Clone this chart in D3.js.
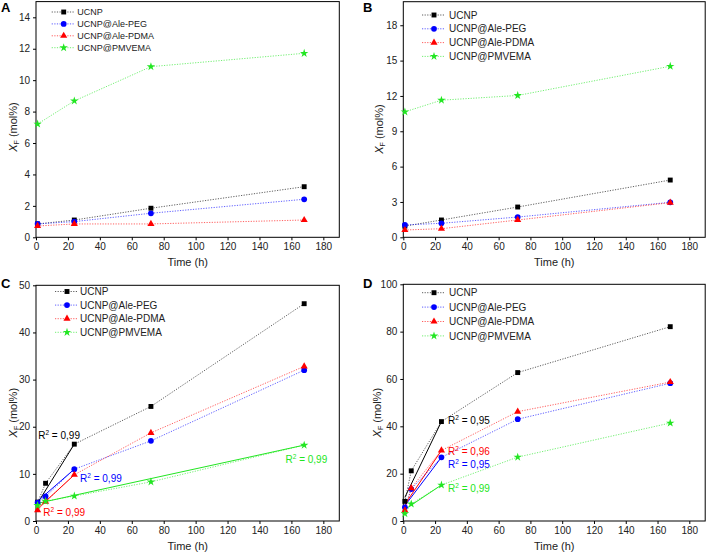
<!DOCTYPE html>
<html>
<head>
<meta charset="utf-8">
<script src="https://cdn.jsdelivr.net/npm/d3@7"></script>
<style>
  body { margin: 0; background: #fff; }
  svg { display: block; font-family: Arial, "Liberation Sans", sans-serif; }
</style>
</head>
<body>
<svg id="chart" width="708" height="553"></svg>
<script>
// ---------------- data ----------------
const seriesNames = ["UCNP", "UCNP@Ale-PEG", "UCNP@Ale-PDMA", "UCNP@PMVEMA"];
const seriesColors = ["#000000", "#0000ff", "#ff0000", "#22e622"];
const seriesShapes = ["square", "circle", "triangle", "star"];

const timesAB = [1, 24, 72, 168];
const timesC = [1, 6, 24, 72, 168];
const timesD = [1, 5, 24, 72, 168];

// Panel A
const aUCNP = [0.85, 1.10, 1.85, 3.22];
const aPEG = [0.85, 1.00, 1.53, 2.42];
const aPDMA = [0.72, 0.85, 0.85, 1.10];
const aPMVEMA = [7.21, 8.68, 10.86, 11.71];

// Panel B
const bUCNP = [0.95, 1.47, 2.57, 4.86];
const bPEG = [1.05, 1.19, 1.72, 2.97];
const bPDMA = [0.62, 0.73, 1.47, 2.94];
const bPMVEMA = [10.65, 11.64, 12.04, 14.52];

// Panel C
const cUCNP = [4.0, 8.0, 16.3, 24.3, 46.1];
const cPEG = [3.9, 5.2, 11.0, 17.0, 32.0];
const cPDMA = [2.3, 4.1, 9.8, 18.7, 32.8];
const cPMVEMA = [3.3, 4.2, 5.3, 8.3, 16.1];

// Panel D
const dUCNP = [8.3, 21.2, 42.0, 62.7, 82.1];
const dPEG = [5.8, 13.5, 26.9, 43.0, 58.2];
const dPDMA = [4.5, 13.9, 29.8, 46.2, 58.7];
const dPMVEMA = [3.1, 7.2, 15.2, 27.0, 41.4];

// linear fits (start/end in data units)
const cFitX = [[1, 24], [1, 24], [1, 24], [1, 168]];
const cFitY = [[3.8, 16.3], [4.2, 11.0], [2.6, 9.8], [3.75, 16.1]];
const dFitX = [[1, 24], [1, 24], [1, 24], [1, 24]];
const dFitY = [[10.0, 42.0], [6.5, 26.9], [7.0, 29.8], [4.9, 15.2]];

// R² annotations (series index, value text, x, y in data units)
const cR2Series = [0, 1, 2, 3];
const cR2Text = ["0,99", "0,99", "0,99", "0,99"];
const cR2X = [1.4, 27.6, 4.6, 156.3];
const cR2Y = [18.2, 9.2, 1.9, 13.2];
const dR2Series = [0, 2, 1, 3];
const dR2Text = ["0,95", "0,96", "0,95", "0,99"];
const dR2X = [28.2, 28.2, 28.2, 28.2];
const dR2Y = [42.5, 29.6, 24.2, 13.8];

const xTicks = [0, 20, 40, 60, 80, 100, 120, 140, 160, 180];
const yTicksA = [0, 2, 4, 6, 8, 10, 12, 14];
const yTicksB = [0, 3, 6, 9, 12, 15, 18];
const yTicksC = [0, 10, 20, 30, 40, 50];
const yTicksD = [0, 20, 40, 60, 80, 100];

// ---------------- drawing ----------------
const svg = d3.select("#chart");

function markerPath(shape) {
  const typeMap = { square: d3.symbolSquare, circle: d3.symbolCircle, triangle: d3.symbolTriangle, star: d3.symbolStar };
  const sizeMap = { square: 24, circle: 26, triangle: 22, star: 22 };
  return d3.symbol().type(typeMap[shape]).size(sizeMap[shape])();
}

function drawPanel(cfg) {
  const g = svg.append("g");
  const x = d3.scaleLinear().domain([0, 190]).range([cfg.left, cfg.right]);
  const y = d3.scaleLinear().domain([0, cfg.ymax]).range([cfg.bottom, cfg.top]);

  // frame
  g.append("rect")
    .attr("x", cfg.left).attr("y", cfg.top)
    .attr("width", cfg.right - cfg.left).attr("height", cfg.bottom - cfg.top)
    .attr("fill", "none").attr("stroke", "#000").attr("stroke-width", 1);

  const xAxis = d3.axisBottom(x).tickValues(xTicks).tickSize(3).tickPadding(3).tickSizeOuter(0);
  const gx = g.append("g").attr("transform", `translate(0,${cfg.bottom})`).call(xAxis);
  const yAxis = d3.axisLeft(y).tickValues(cfg.yTicks).tickSize(3).tickPadding(3).tickSizeOuter(0);
  const gy = g.append("g").attr("transform", `translate(${cfg.left},0)`).call(yAxis);
  [gx, gy].forEach(a => {
    a.select(".domain").remove();
    a.selectAll("text").attr("font-size", 10).attr("font-family", "Arial, 'Liberation Sans', sans-serif").attr("fill", "#222");
    a.selectAll("line").attr("stroke", "#000");
  });

  // axis titles
  g.append("text")
    .attr("x", (cfg.left + cfg.right) / 2).attr("y", cfg.bottom + 29)
    .attr("text-anchor", "middle").attr("font-size", 11).attr("fill", "#222")
    .text("Time (h)");
  const yt = g.append("text")
    .attr("transform", `translate(${cfg.ytitleX},${cfg.ytitleY}) rotate(-90)`)
    .attr("text-anchor", "middle").attr("font-size", 11).attr("fill", "#222");
  yt.append("tspan").attr("font-style", "italic").text("X");
  yt.append("tspan").attr("font-size", 7).attr("dy", 2).text("F");
  yt.append("tspan").attr("dy", -2).text(" (mol%)");

  // panel letter
  g.append("text").attr("x", cfg.letterX).attr("y", cfg.letterY)
    .attr("font-size", 13).attr("font-weight", "bold").attr("fill", "#000").text(cfg.letter);

  const line = d3.line().x(d => x(d[0])).y(d => y(d[1]));

  // fits (solid)
  if (cfg.fitX) {
    cfg.fitX.forEach((fx, i) => {
      g.append("path")
        .attr("d", line([[fx[0], cfg.fitY[i][0]], [fx[1], cfg.fitY[i][1]]]))
        .attr("fill", "none").attr("stroke", seriesColors[i]).attr("stroke-width", 1);
    });
  }

  // dotted series lines
  cfg.series.forEach((vals, i) => {
    const pts = cfg.times.map((t, j) => [t, vals[j]]);
    g.append("path")
      .attr("d", line(pts))
      .attr("fill", "none").attr("stroke", seriesColors[i]).attr("stroke-width", 0.9)
      .attr("stroke-dasharray", "1.2,1.4").attr("opacity", 0.7);
  });
  // markers
  cfg.series.forEach((vals, i) => {
    g.selectAll(null).data(cfg.times.map((t, j) => [t, vals[j]])).enter()
      .append("path")
      .attr("d", markerPath(seriesShapes[i]))
      .attr("transform", d => `translate(${x(d[0])},${y(d[1])})`)
      .attr("fill", seriesColors[i]);
  });

  // legend
  seriesNames.forEach((name, i) => {
    const ly = cfg.top + cfg.legDy + i * cfg.legSp;
    const lx = cfg.left + cfg.legDx;
    g.append("line").attr("x1", lx).attr("x2", lx + 22).attr("y1", ly).attr("y2", ly)
      .attr("stroke", seriesColors[i]).attr("stroke-width", 0.9)
      .attr("stroke-dasharray", "1.2,1.4").attr("opacity", 0.7);
    g.append("path").attr("d", markerPath(seriesShapes[i]))
      .attr("transform", `translate(${lx + 12},${ly})`).attr("fill", seriesColors[i]);
    g.append("text").attr("x", lx + cfg.legTx).attr("y", ly + cfg.legFont * 0.36)
      .attr("font-size", cfg.legFont).attr("fill", "#222").text(name);
  });

  // R² annotations
  if (cfg.r2Series) {
    cfg.r2Series.forEach((si, k) => {
      const t = g.append("text")
        .attr("x", x(cfg.r2X[k])).attr("y", y(cfg.r2Y[k]) + 4)
        .attr("font-size", 10).attr("fill", seriesColors[si]);
      t.append("tspan").text("R");
      t.append("tspan").attr("font-size", 6.5).attr("dy", -4).text("2");
      t.append("tspan").attr("dy", 4).text(" = " + cfg.r2Text[k]);
    });
  }
}

drawPanel({
  letter: "A", letterX: 1, letterY: 12,
  left: 36, right: 339.3, top: 1.6, bottom: 237.3, ymax: 15, yTicks: yTicksA,
  ytitleX: 17, ytitleY: 127,
  legDx: 15.7, legDy: 10.4, legSp: 11.9, legTx: 25.6, legFont: 9,
  times: timesAB, series: [aUCNP, aPEG, aPDMA, aPMVEMA]
});
drawPanel({
  letter: "B", letterX: 363, letterY: 12,
  left: 403.3, right: 705.2, top: 1.7, bottom: 237.3, ymax: 20, yTicks: yTicksB,
  ytitleX: 383, ytitleY: 129,
  legDx: 18.7, legDy: 13.3, legSp: 13.8, legTx: 27, legFont: 10,
  times: timesAB, series: [bUCNP, bPEG, bPDMA, bPMVEMA]
});
drawPanel({
  letter: "C", letterX: 1, letterY: 288,
  left: 36, right: 339.3, top: 285.3, bottom: 521, ymax: 50, yTicks: yTicksC,
  ytitleX: 17, ytitleY: 412.7,
  legDx: 19, legDy: 6.2, legSp: 13.6, legTx: 25, legFont: 10,
  times: timesC, series: [cUCNP, cPEG, cPDMA, cPMVEMA],
  fitX: cFitX, fitY: cFitY,
  r2Series: cR2Series, r2Text: cR2Text, r2X: cR2X, r2Y: cR2Y
});
drawPanel({
  letter: "D", letterX: 363, letterY: 288,
  left: 403.3, right: 705.2, top: 284.3, bottom: 521, ymax: 100, yTicks: yTicksD,
  ytitleX: 381, ytitleY: 412.7,
  legDx: 18.7, legDy: 8.4, legSp: 14.4, legTx: 27, legFont: 10,
  times: timesD, series: [dUCNP, dPEG, dPDMA, dPMVEMA],
  fitX: dFitX, fitY: dFitY,
  r2Series: dR2Series, r2Text: dR2Text, r2X: dR2X, r2Y: dR2Y
});
</script>
</body>
</html>
